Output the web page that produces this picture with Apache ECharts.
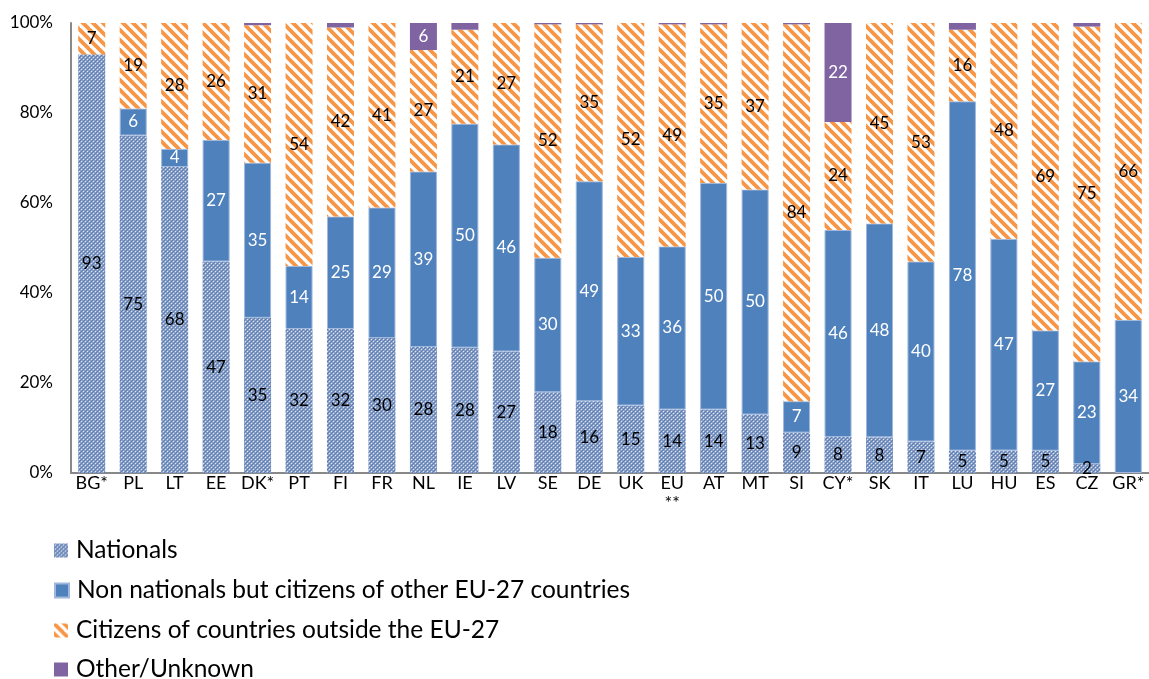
<!DOCTYPE html>
<html>
<head>
<meta charset="utf-8">
<script src="https://cdn.jsdelivr.net/npm/echarts@6/dist/echarts.min.js"></script>
<style>
html,body{margin:0;padding:0;background:#fff;}
#chart{width:1149px;height:679px;}
</style>
</head>
<body>
<div id="chart"></div>
<script>
const categories = ['BG*','PL','LT','EE','DK*','PT','FI','FR','NL','IE','LV','SE','DE','UK','EU\n**','AT','MT','SI','CY*','SK','IT','LU','HU','ES','CZ','GR*'];
const nationals = [93,75,68,47,35,32,32,30,28,28,27,18,16,15,14,14,13,9,8,8,7,5,5,5,2,0];
const otherEU   = [0,6,4,27,35,14,25,29,39,50,46,30,49,33,36,50,50,7,46,48,40,78,47,27,23,34];
const outsideEU = [7,19,28,26,31,54,42,41,27,21,27,52,35,52,49,35,37,84,24,45,53,16,48,69,75,66];
const unknown   = [0,0,0,0,0.5,0,1,0,6,1.5,0,0.3,0.3,0,0.3,0.3,0,0.3,22,0,0,1.5,0,0,0.8,0];
const yTicks = ['0%','20%','40%','60%','80%','100%'];
const seriesNames = ['Nationals','Non nationals but citizens of other EU-27 countries','Citizens of countries outside the EU-27','Other/Unknown'];

function makeChecker(){
  const c=document.createElement('canvas');c.width=4;c.height=4;
  const g=c.getContext('2d');
  g.fillStyle='#8aa0c6';g.fillRect(0,0,4,4);
  g.fillStyle='#5b7db3';g.fillRect(0,0,1,1);g.fillRect(2,2,1,1);g.fillRect(1,3,1,1);g.fillRect(3,1,1,1);
  g.fillStyle='#dde6f3';g.fillRect(1,1,1,1);g.fillRect(3,3,1,1);
  return c;
}
function makeStripes(){
  const s=10;
  const c=document.createElement('canvas');c.width=s;c.height=s;
  const g=c.getContext('2d');
  g.fillStyle='#ffffff';g.fillRect(0,0,s,s);
  g.strokeStyle='#F79646';g.lineWidth=3.8;g.lineCap='square';
  for(let k=-1;k<=1;k++){g.beginPath();g.moveTo(k*s,0);g.lineTo(k*s+s,s);g.stroke();}
  return c;
}

const raw=[nationals,otherEU,outsideEU,unknown];
const totals=categories.map((_,i)=>raw.reduce((a,arr)=>a+arr[i],0));
const norm=raw.map(arr=>arr.map((v,i)=>v/totals[i]*100));

const colors=[
  {image:makeChecker(),repeat:'repeat'},
  '#4F81BD',
  {image:makeStripes(),repeat:'repeat'},
  '#8064A2'
];
const labelColors=['#000','#fff','#000','#fff'];
const minLabel=[1,1,1,5];
const FONT='Lato';
const legendTops=[538,578,618,657];

const chart=echarts.init(document.getElementById('chart'),null,{renderer:'canvas'});
chart.setOption({
  animation:false,
  textStyle:{fontFamily:FONT},
  grid:{left:71,top:23,width:1080,height:450,containLabel:false},
  legend:seriesNames.map((n,i)=>({
    orient:'vertical',left:54,top:legendTops[i],itemWidth:14,itemHeight:14,
    icon:'rect',padding:0,
    textStyle:{fontFamily:FONT,fontSize:24.5,color:'#000',padding:[0,0,0,3]},
    data:[n]
  })),
  xAxis:{
    type:'category',data:categories,
    axisLine:{lineStyle:{color:'#888',width:2}},
    axisTick:{show:false},
    axisLabel:{color:'#000',fontSize:18,margin:0,lineHeight:20,interval:0,fontFamily:FONT}
  },
  yAxis:{
    type:'value',min:0,max:100,interval:20,
    axisLine:{show:true,lineStyle:{color:'#888',width:2}},
    axisTick:{show:false},
    splitLine:{show:false},
    axisLabel:{color:'#000',fontSize:17,margin:18,fontFamily:FONT,formatter:(v)=>yTicks[v/20]}
  },
  series:seriesNames.map((name,si)=>({
    name:name,type:'bar',stack:'total',barWidth:27,
    data:norm[si],
    itemStyle:{color:colors[si],borderColor:si===1?'#9fb8dc':'rgba(255,255,255,0)',borderWidth:si===1?1:0},
    label:{
      show:true,position:'inside',fontSize:17,fontFamily:FONT,color:labelColors[si],
      formatter:(p)=>{const v=raw[si][p.dataIndex];return v>=minLabel[si]?String(v):'';}
    }
  }))
});
</script>
</body>
</html>
